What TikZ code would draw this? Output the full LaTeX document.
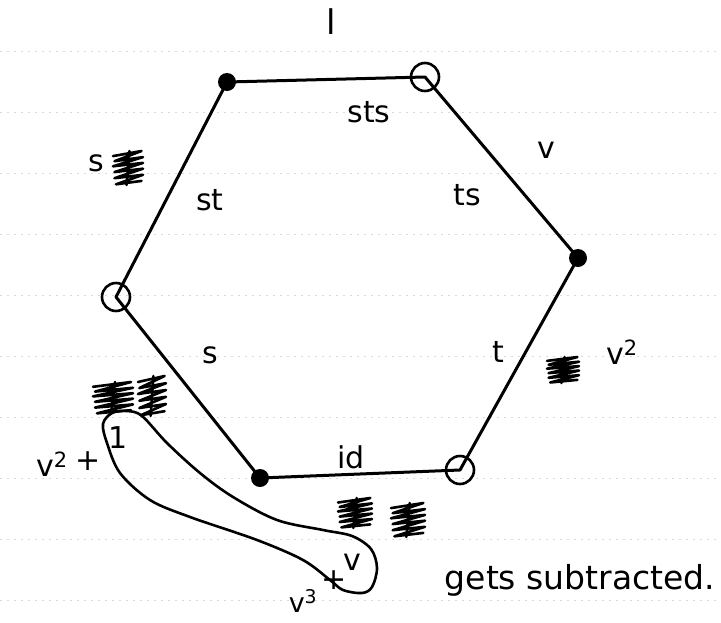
\documentclass[tikz,border=0pt]{standalone}
\usepackage{fontspec}
\setmainfont{DejaVu Sans}
\begin{document}
\begin{tikzpicture}[x=1pt,y=-1pt,
  ink/.style={line width=3pt, line cap=round, line join=round},
  fdot/.style={circle, fill=black, minimum size=18pt, inner sep=0pt},
  odot/.style={circle, draw=black, line width=2.6pt, minimum size=28pt, inner sep=0pt},
  hand/.style={font=\fontsize{30}{32}\selectfont, inner sep=0pt},
  rule/.style={gray!30, line width=0.6pt, dash pattern=on 2pt off 5pt},
  scrib/.pic={\draw[line width=2.6pt, line join=round, line cap=round]
     (-0.5,-0.35) -- (0.45,-0.5) -- (-0.45,-0.2) -- (0.5,-0.32) -- (-0.5,-0.05)
     -- (0.5,-0.15) -- (-0.45,0.12) -- (0.5,0.02) -- (-0.45,0.3) -- (0.5,0.2)
     -- (-0.4,0.48) -- (0.45,0.38);
     \draw[line width=2.6pt, line cap=round] (0.05,-0.5) -- (-0.05,0.5);}
]
\useasboundingbox (0,0) rectangle (721,622);
% notebook ruling
\foreach \yy in {51,112,173,234,295,356,417,478,539,600}
  \draw[rule] (0,\yy) -- (721,\yy);

% hexagon vertices
\coordinate (TL) at (227,82);
\coordinate (TR) at (425,77);
\coordinate (R) at (578,258);
\coordinate (BR) at (460,470);
\coordinate (BL) at (260,478);
\coordinate (L) at (116,297);
\draw[ink] (TL) -- (TR) -- (R) -- (BR) -- (BL) -- (L) -- cycle;
\node[fdot] (nTL) at (TL) {};
\node[odot] (nTR) at (TR) {};
\node[fdot] (nR) at (R) {};
\node[odot] (nBR) at (BR) {};
\node[fdot] (nBL) at (BL) {};
\node[odot] (nL) at (L) {};

% loop
\draw[ink, line width=2.6pt] plot[smooth cycle, tension=0.55] coordinates {
 (112,413) (127,411) (142,416) (167,443) (200,473) (233,497) (277,520)
 (323,530) (352,536) (371,549) (377,568) (372,587) (362,593) (343,590)
 (330,580) (303,560) (257,540) (190,517) (150,500) (120,473) (107,443) (103,424)};

% scribbles
\pic[xscale=30, yscale=34] (sc1) at (128,168) {scrib};
\pic[xscale=32, yscale=26] (sc2) at (563,370) {scrib};
\pic[xscale=40, yscale=32] (sc3) at (113,398) {scrib};
\pic[xscale=28, yscale=40] (sc4) at (152,396) {scrib};
\pic[xscale=34, yscale=30] (sc5) at (355,513) {scrib};
\pic[xscale=34, yscale=34] (sc6) at (408,520) {scrib};

% labels
\node[hand, font=\fontsize{34}{36}\selectfont] (lab1) at (331,22) {l};
\node[hand] (lsts) at (369,112) {sts};
\node[hand] (ls1) at (96,163) {s};
\node[hand] (lst) at (210,200) {st};
\node[hand] (lv) at (546,150) {v};
\node[hand] (lts) at (467,195) {ts};
\node[hand] (lt) at (498,352) {t};
\node[hand] (lv2) at (622,352) {v\textsuperscript{2}};
\node[hand] (ls2) at (210,355) {s};
\node[hand] (lid) at (351,457) {id};
\node[hand] (lv2b) at (52,464) {v\textsuperscript{2}};
\node[hand] (lplus) at (88,461) {+};
\node[hand] (lone) at (118,438) {1};
\node[hand, font=\fontsize{27}{29}\selectfont] (lv3) at (303,601) {v\textsuperscript{3}};
\node[hand] (lplus2) at (334,580) {+};
\node[hand] (lvv) at (352,562) {v};
\node[hand, font=\fontsize{33}{35}\selectfont] (lgets) at (580,580) {gets subtracted.};
\end{tikzpicture}
\end{document}
